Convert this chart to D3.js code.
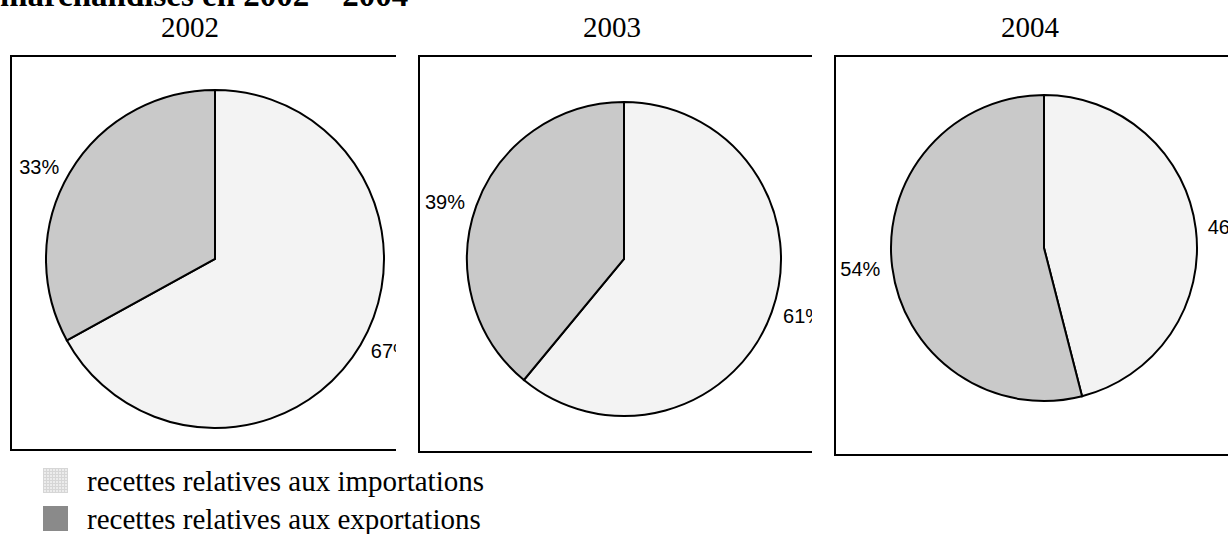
<!DOCTYPE html>
<html>
<head>
<meta charset="utf-8">
<script src="https://cdn.jsdelivr.net/npm/d3@7"></script>
<style>
  body { margin: 0; background: white; }
</style>
</head>
<body>
<script>
// data
var years = ["2002", "2003", "2004"];
var imports = [67, 61, 46];
var exports_ = [33, 39, 54];
var seriesNames = ["recettes relatives aux importations", "recettes relatives aux exportations"];
var pageTitle = "marchandises en 2002 \u2013 2004";

var width = 1228, height = 534;

// panel layout (title x, box left/top/bottom, clip right, pie centre & radius)
var panels = [
   {tx: 190, x: 11, y: 56, b: 450, clip: 396, cx: 215, cy: 259, r: 169},
   {tx: 612, x: 419, y: 56, b: 452, clip: 812, cx: 624, cy: 259, r: 157},
   {tx: 1030, x: 835, y: 56, b: 455, clip: 1240, cx: 1044, cy: 248, r: 153}
];
var colors = ["#f3f3f3", "#c9c9c9"];
var serif = "Liberation Serif, Times New Roman, serif";

var svg = d3.select("body")
   .append("svg")
   .attr("width", width)
   .attr("height", height)
   .style("display", "block");

var defs = svg.append("defs");
var pat = defs.append("pattern")
   .attr("id", "grid")
   .attr("width", 3)
   .attr("height", 3)
   .attr("patternUnits", "userSpaceOnUse");
pat.append("rect").attr("width", 3).attr("height", 3).style("fill", "#ececec");
pat.append("path").attr("d", "M0,0.5H3M0.5,0V3").style("stroke", "#d6d6d6").style("stroke-width", 1);

svg.append("text")
   .attr("x", 0)
   .attr("y", 6)
   .style("font-family", serif)
   .style("font-weight", "bold")
   .style("font-size", "33px")
   .text(pageTitle);

var pie = d3.pie().sort(null).value(function (d) { return d; });

years.forEach(function (yr, i) {
   var p = panels[i];
   defs.append("clipPath")
      .attr("id", "clip" + i)
      .append("rect")
      .attr("x", 0).attr("y", 0)
      .attr("width", p.clip).attr("height", height);

   svg.append("text")
      .attr("x", p.tx)
      .attr("y", 37)
      .attr("text-anchor", "middle")
      .style("font-family", serif)
      .style("font-size", "29px")
      .text(yr);

   var g = svg.append("g").attr("clip-path", "url(#clip" + i + ")");

   g.append("rect")
      .attr("x", p.x)
      .attr("y", p.y)
      .attr("width", 1300)
      .attr("height", p.b - p.y)
      .style("fill", "none")
      .style("stroke", "black")
      .style("stroke-width", 2);

   var arc = d3.arc().innerRadius(0).outerRadius(p.r);
   var labelArc = d3.arc().innerRadius(p.r + 12).outerRadius(p.r + 12);
   var slices = pie([imports[i], exports_[i]]);

   var pg = g.append("g").attr("transform", "translate(" + p.cx + "," + p.cy + ")");
   pg.selectAll("path")
      .data(slices)
      .enter()
      .append("path")
      .attr("d", arc)
      .style("fill", function (d, j) { return colors[j]; })
      .style("stroke", "black")
      .style("stroke-width", 2)
      .style("stroke-linejoin", "miter");

   pg.selectAll("text")
      .data(slices)
      .enter()
      .append("text")
      .attr("transform", function (d) { return "translate(" + labelArc.centroid(d) + ")"; })
      .attr("dy", "0.35em")
      .attr("text-anchor", function (d) {
         return (d.startAngle + d.endAngle) / 2 < Math.PI ? "start" : "end";
      })
      .style("font-family", "Liberation Sans, Arial, sans-serif")
      .style("font-size", "20px")
      .text(function (d) { return d.data + "%"; });
});

// legend
var leg = svg.selectAll("g.legend")
   .data(seriesNames)
   .enter()
   .append("g")
   .attr("class", "legend")
   .attr("transform", function (d, i) { return "translate(43," + (468 + i * 38) + ")"; });

leg.append("rect")
   .attr("width", 25)
   .attr("height", 25)
   .style("fill", function (d, i) { return i == 0 ? "url(#grid)" : "#8a8a8a"; });

leg.append("text")
   .attr("x", 44)
   .attr("y", 23)
   .style("font-family", serif)
   .style("font-size", "29px")
   .text(function (d) { return d; });
</script>
</body>
</html>
